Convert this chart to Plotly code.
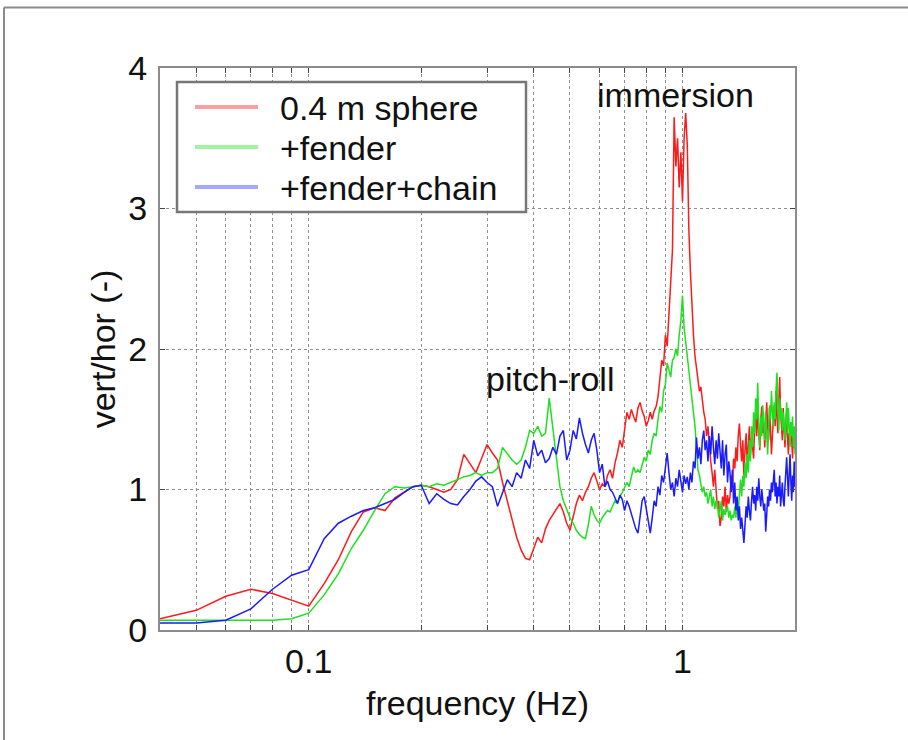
import math
import plotly.graph_objects as go

# ---- data ----
freq = [round(0.04 + 0.01 * i, 2) for i in range(197)]  # 0.04 ... 2.00 Hz

sphere = [
    0.08, 0.14, 0.24, 0.29, 0.26, 0.21, 0.17, 0.33, 0.50, 0.70,
    0.84, 0.87, 0.85, 0.94, 0.98, 1.02, 1.03, 1.02, 1.00, 0.98,
    1.00, 1.07, 1.25, 1.18, 1.12, 1.22, 1.32, 1.26, 1.21, 1.05,
    0.92, 0.80, 0.66, 0.57, 0.51, 0.50, 0.58, 0.66, 0.62, 0.72,
    0.78, 0.82, 0.86, 0.90, 0.84, 0.76, 0.71, 0.80, 0.90, 0.96,
    0.92, 0.98, 1.02, 1.08, 1.12, 1.06, 1.00, 1.04, 1.02, 1.10,
    1.14, 1.08, 1.19, 1.26, 1.35, 1.30, 1.42, 1.55, 1.50, 1.57,
    1.52, 1.48, 1.58, 1.62, 1.56, 1.52, 1.45, 1.49, 1.55, 1.50,
    1.56, 1.59, 1.66, 1.80, 1.92, 1.88, 2.10, 2.02, 2.25, 2.45,
    2.70, 3.65, 3.30, 3.50, 3.15, 3.40, 3.05, 3.50, 3.68, 3.45,
    2.85, 2.55, 2.30, 2.10, 1.95, 1.85, 1.80, 1.70, 1.73, 1.62,
    1.55, 1.50, 1.38, 1.45, 1.28, 1.20, 1.12, 1.02, 1.14, 1.00,
    0.86, 0.92, 0.74, 0.80, 0.95, 0.88, 1.02, 0.84, 0.96, 0.90,
    0.95, 1.10, 1.02, 1.22, 1.15, 1.30, 1.20, 1.38, 1.47, 1.32,
    1.20, 1.35, 1.10, 1.28, 1.40, 1.18, 1.30, 1.45, 1.25, 1.36,
    1.30, 1.22, 1.45, 1.52, 1.38, 1.55, 1.42, 1.28, 1.50, 1.59,
    1.40, 1.48, 1.30, 1.55, 1.62, 1.45, 1.35, 1.58, 1.42, 1.25,
    1.38, 1.50, 1.60, 1.45, 1.70, 1.52, 1.40, 1.62, 1.80, 1.55,
    1.45, 1.35, 1.58, 1.48, 1.30, 1.42, 1.55, 1.38, 1.25, 1.40,
    1.32, 1.48, 1.36, 1.22, 1.42, 1.30, 1.38,
]

fender = [
    0.07, 0.07, 0.07, 0.07, 0.07, 0.08, 0.12, 0.25, 0.40, 0.58,
    0.71, 0.85, 0.97, 1.02, 1.01, 1.02, 1.03, 1.02, 1.04, 1.03,
    1.05, 1.07, 1.09, 1.10, 1.12, 1.10, 1.12, 1.12, 1.15, 1.30,
    1.25, 1.21, 1.18, 1.21, 1.30, 1.42, 1.40, 1.45, 1.38, 1.40,
    1.65, 1.42, 1.22, 1.02, 0.92, 0.86, 0.80, 0.76, 0.71, 0.68,
    0.66, 0.65, 0.75, 0.88, 0.82, 0.78, 0.76, 0.80, 0.83, 0.85,
    0.84, 0.88, 0.92, 0.90, 0.95, 0.98, 1.02, 1.05, 1.02, 1.10,
    1.16, 1.12, 1.14, 1.12, 1.18, 1.23, 1.20, 1.28, 1.25, 1.35,
    1.40, 1.38, 1.50, 1.59, 1.55, 1.70, 1.75, 1.90, 1.85, 1.80,
    1.92, 1.94, 2.00, 1.95, 2.10, 2.20, 2.38, 2.15, 2.05, 1.95,
    1.85, 1.72, 1.62, 1.55, 1.45, 1.30, 1.14, 1.10, 1.05, 0.98,
    1.02, 0.95, 0.98, 0.90, 0.95, 1.00, 0.88, 0.95, 0.86, 0.92,
    0.90, 0.80, 0.85, 0.92, 0.78, 0.86, 0.82, 0.85, 0.88, 0.80,
    0.85, 0.78, 0.82, 0.80, 0.88, 0.80, 0.92, 0.85, 0.98, 1.07,
    0.95, 1.10, 1.02, 1.19, 1.08, 1.25, 1.12, 1.35, 1.20, 1.45,
    1.30, 1.55, 1.40, 1.65, 1.50, 1.76, 1.45, 1.30, 1.52, 1.38,
    1.60, 1.48, 1.35, 1.55, 1.42, 1.25, 1.42, 1.60, 1.50, 1.70,
    1.55, 1.45, 1.62, 1.50, 1.72, 1.83, 1.60, 1.42, 1.65, 1.50,
    1.58, 1.42, 1.55, 1.48, 1.35, 1.50, 1.62, 1.40, 1.58, 1.45,
    1.30, 1.48, 1.38, 1.52, 1.30, 1.45, 1.25,
]

chain = [
    0.05, 0.05, 0.07, 0.15, 0.29, 0.39, 0.43, 0.65, 0.76, 0.81,
    0.85, 0.87, 0.90, 0.93, 0.98, 1.02, 1.03, 0.90, 0.97, 0.93,
    0.90, 0.89, 0.95, 1.00, 1.06, 1.09, 1.05, 1.02, 0.88, 0.98,
    1.07, 1.02, 1.12, 1.08, 1.21, 1.15, 1.35, 1.24, 1.28, 1.19,
    1.22, 1.30, 1.25, 1.38, 1.42, 1.21, 1.28, 1.42, 1.36, 1.51,
    1.40, 1.32, 1.26, 1.35, 1.40, 1.28, 1.12, 1.18, 1.02, 1.06,
    1.00, 0.98, 0.94, 0.90, 0.96, 0.93, 0.85, 0.92, 0.88, 0.83,
    0.78, 0.72, 0.69, 0.82, 0.92, 0.95, 0.85, 0.76, 0.69, 0.80,
    0.92, 0.88, 1.02, 0.96, 1.10, 1.05, 1.18, 1.26, 1.12, 1.00,
    1.05, 0.95, 1.08, 1.02, 1.14, 1.06, 0.98, 1.10, 1.04, 1.09,
    1.00, 1.12, 1.05, 1.20, 1.15, 1.37, 1.22, 1.30, 1.18, 1.35,
    1.42, 1.28, 1.35, 1.20, 1.38, 1.25, 1.45, 1.30, 1.18, 1.35,
    1.22, 1.40, 1.28, 1.15, 1.35, 1.10, 1.25, 1.32, 1.05, 1.20,
    1.12, 0.98, 1.14, 0.90, 1.05, 0.85, 0.95, 0.78, 0.88, 0.72,
    0.80, 0.68, 0.62, 0.75, 0.88, 0.80, 0.95, 0.85, 0.78, 0.92,
    1.02, 0.90, 0.96, 0.85, 1.02, 0.92, 1.08, 0.95, 0.88, 1.00,
    0.92, 0.85, 0.90, 0.70, 0.82, 0.95, 0.88, 1.00, 0.92, 1.05,
    0.98, 1.10, 1.14, 0.95, 1.05, 0.90, 1.02, 0.95, 1.10, 0.88,
    0.95, 1.05, 0.92, 0.88, 1.02, 1.15, 1.23, 1.08, 0.95, 1.12,
    1.25, 1.05, 0.92, 1.10, 0.98, 1.20, 1.02,
]

series_names = ["0.4 m sphere", "+fender", "+fender+chain"]
line_colors = ["#ff1a1a", "#1ee01e", "#1a1aff"]
legend_colors = ["#ffa0a0", "#a0f5a0", "#a8a8ff"]

x_tickvals = [0.05, 0.06, 0.07, 0.08, 0.09, 0.1, 0.2, 0.3, 0.4, 0.5, 0.6, 0.7, 0.8, 0.9, 1, 2]
x_ticktext = ["", "", "", "", "", "0.1", "", "", "", "", "", "", "", "", "1", ""]
y_tickvals = [0, 1, 2, 3, 4]
y_ticktext = ["0", "1", "2", "3", "4"]

FONT = "Liberation Sans, Arial, Helvetica, sans-serif"
TXT = "#111111"

fig = go.Figure()
for name, vals, col in zip(series_names, [sphere, fender, chain], line_colors):
    fig.add_trace(go.Scatter(x=freq, y=vals, mode="lines", name=name,
                             line=dict(color=col, width=1.5),
                             showlegend=False, hoverinfo="skip"))

axis_common = dict(
    ticks="inside", ticklen=5, tickwidth=1, tickcolor="#444444",
    showgrid=True, gridcolor="#8f8f8f", griddash="dot", gridwidth=1,
    showline=True, linecolor="#8c8c8c", linewidth=2, mirror="ticks",
    zeroline=False,
    tickfont=dict(family=FONT, size=34, color=TXT),
)

# ---- legend box drawn in paper coordinates (plot area = 160..795 x 68..630 px) ----
def px_x(px):
    return (px - 160) / 635.0

def px_y(py):
    return (630 - py) / 562.0

legend_rows_px = [107, 147, 187]
shapes = [
    dict(type="line", xref="paper", yref="paper", x0=-0.2457, x1=1.18, y0=1.1076, y1=1.1076,
         line=dict(color="#8a8a8a", width=2)),
    dict(type="line", xref="paper", yref="paper", x0=-0.2457, x1=-0.2457, y0=-0.2, y1=1.1076,
         line=dict(color="#8a8a8a", width=2)),
    dict(type="rect", xref="paper", yref="paper", x0=px_x(177), x1=px_x(526),
         y0=px_y(212), y1=px_y(82), line=dict(color="#777777", width=2.5),
         fillcolor="white", layer="above"),
]
annotations = [
    dict(x=math.log10(0.96), y=3.81, xref="x", yref="y", text="immersion",
         showarrow=False, font=dict(family=FONT, size=34, color=TXT),
         xanchor="center", yanchor="middle"),
    dict(x=math.log10(0.441), y=1.79, xref="x", yref="y", text="pitch-roll",
         showarrow=False, font=dict(family=FONT, size=34, color=TXT),
         xanchor="center", yanchor="middle"),
]
for name, col, ry in zip(series_names, legend_colors, legend_rows_px):
    shapes.append(dict(type="line", xref="paper", yref="paper",
                       x0=px_x(195), x1=px_x(258), y0=px_y(ry), y1=px_y(ry),
                       line=dict(color=col, width=4), layer="above"))
    annotations.append(dict(x=px_x(278), y=px_y(ry + 1), xref="paper", yref="paper",
                            text=name, showarrow=False, xanchor="left", yanchor="middle",
                            font=dict(family=FONT, size=34, color=TXT)))

fig.update_layout(
    width=908, height=740,
    margin=dict(l=160, r=113, t=68, b=110),
    paper_bgcolor="white", plot_bgcolor="white",
    font=dict(family=FONT, size=34, color=TXT),
    showlegend=False,
    xaxis=dict(type="log", range=[math.log10(0.04), math.log10(2)],
               tickvals=x_tickvals, ticktext=x_ticktext,
               ticklabelstandoff=0,
               title=dict(text="frequency (Hz)", font=dict(family=FONT, size=34, color=TXT), standoff=12),
               **axis_common),
    yaxis=dict(range=[0, 4], tickvals=y_tickvals, ticktext=y_ticktext,
               ticklabelstandoff=4,
               title=dict(text="vert/hor (-)", font=dict(family=FONT, size=34, color=TXT), standoff=2),
               **axis_common),
    annotations=annotations,
    shapes=shapes,
)

fig.write_html("out.html")
